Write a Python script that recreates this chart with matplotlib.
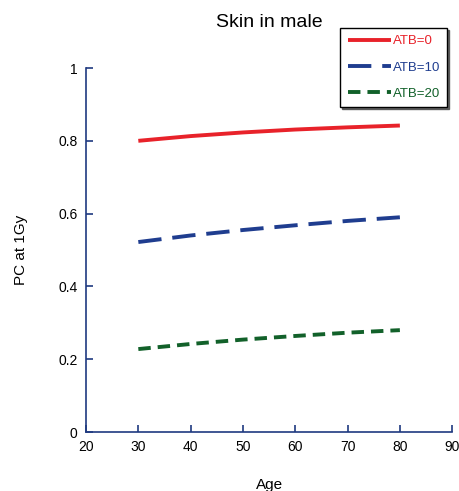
import matplotlib.pyplot as plt

plt.rcParams["font.family"] = ["Liberation Sans", "DejaVu Sans"]

ages = [30, 40, 50, 60, 70, 80]
atb0 = [0.800, 0.813, 0.823, 0.831, 0.837, 0.842]
atb10 = [0.522, 0.540, 0.555, 0.568, 0.580, 0.590]
atb20 = [0.228, 0.242, 0.254, 0.264, 0.273, 0.280]
labels = ["ATB=0", "ATB=10", "ATB=20"]
colors = ["#e8222a", "#1f3d8f", "#12612a"]

fig = plt.figure(figsize=(4.6, 4.91), dpi=100)
ax = fig.add_axes([0.187, 0.12, 0.796, 0.7415])

l0, = ax.plot(ages, atb0, color=colors[0], lw=2.8, solid_capstyle="butt")
l1, = ax.plot(ages, atb10, color=colors[1], lw=2.8, dashes=(6, 2.8))
l2, = ax.plot(ages, atb20, color=colors[2], lw=2.8, dashes=(3.2, 1.8))

ax.set_xlim(20, 90)
ax.set_ylim(0, 1)
ax.set_xticks(range(20, 91, 10))
ax.set_yticks([0, 0.2, 0.4, 0.6, 0.8, 1])
ax.set_yticklabels(["0", "0.2", "0.4", "0.6", "0.8", "1"])
for s in ["top", "right"]:
    ax.spines[s].set_visible(False)
for s in ["left", "bottom"]:
    ax.spines[s].set_color("#1f3a80")
    ax.spines[s].set_linewidth(1.2)
ax.tick_params(direction="in", length=5, width=1.2, color="#1f3a80",
               labelsize=10, pad=6)

ax.set_xlabel("Age", fontsize=11, labelpad=17)
ax.set_ylabel("PC at 1Gy", fontsize=11, labelpad=22)
fig.text(0.585, 0.955, "Skin in male", ha="center", va="center", fontsize=14)

leg = fig.legend([l0, l1, l2], labels, loc="upper left",
                 bbox_to_anchor=(0.74, 0.943), frameon=True, fancybox=False,
                 edgecolor="black", fontsize=9.5,
                 shadow={"ox": 1.5, "oy": -1.5, "color": "#444444", "alpha": 0.8},
                 handlelength=3.3, handletextpad=0.1, labelspacing=1.05,
                 borderpad=0.55, borderaxespad=0)
leg.get_frame().set_linewidth(1.0)
for t, c in zip(leg.get_texts(), colors):
    t.set_color(c)

fig.savefig("out.png", dpi=100)
